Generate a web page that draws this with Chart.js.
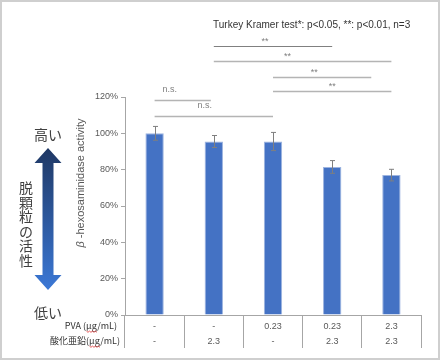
<!DOCTYPE html>
<html lang="ja">
<head>
    <meta charset="UTF-8">
    <title>β-hexosaminidase activity</title>
    <script src="https://cdn.jsdelivr.net/npm/chart.js"></script>
    <style>
        html, body { margin: 0; padding: 0; background: #fff; }
        #wrap { width: 440px; height: 360px; }
    </style>
</head>
<body>
    <div id="wrap"><canvas id="chart" width="440" height="360"></canvas></div>

    <script>
        // Data
        const pvaLabels = ['-', '-', '0.23', '0.23', '2.3'];
        const znoLabels = ['-', '2.3', '-', '2.3', '2.3'];
        const activity = [100, 95.5, 95.5, 81.5, 77];
        const activityErr = [3.8, 3.3, 5, 3.5, 3.2];
        const yTicks = [0, 20, 40, 60, 80, 100, 120];

        // significance brackets: from / to (category index), label
        const bracketFrom = [1, 1, 2, 2, 0, 0];
        const bracketTo = [3, 4, 3.66, 4, 0.95, 2];
        const bracketLabel = ['**', '**', '**', '**', 'n.s.', 'n.s.'];

        const FONT = '"Liberation Sans", Arial, "Noto Sans CJK JP", sans-serif';
        const JP = '"Noto Sans CJK JP", "Liberation Sans", sans-serif';

        // pixel levels of the brackets (drawn above the plot)
        const bracketY = [46, 61, 77, 91, 100, 116];
        const labelDx = [-8, -15, -8, 0, -13, -9];

        // red spellcheck squiggle under "μg"
        function squiggle(ctx, x0, x1, y) {
            ctx.save();
            ctx.strokeStyle = '#e03030';
            ctx.lineWidth = 0.8;
            ctx.beginPath();
            for (let xx = x0, k = 0; xx <= x1; xx += 1.5, k++) {
                const yy = y + (k % 2 ? 0.8 : -0.4);
                if (k === 0) ctx.moveTo(xx, yy); else ctx.lineTo(xx, yy);
            }
            ctx.stroke();
            ctx.restore();
        }

        const extras = {
            id: 'extras',
            beforeDraw(chart) {
                const ctx = chart.ctx;
                ctx.save();
                ctx.fillStyle = '#fff';
                ctx.fillRect(0, 0, chart.width, chart.height);
                ctx.strokeStyle = '#cfcfcf';
                ctx.lineWidth = 2;
                ctx.strokeRect(1, 1, chart.width - 2, chart.height - 2);
                ctx.restore();
            },
            afterDatasetsDraw(chart) {
                const ctx = chart.ctx;
                const x = chart.scales.x, y = chart.scales.y;
                const meta = chart.getDatasetMeta(0);
                ctx.save();

                // error bars
                ctx.strokeStyle = '#7f7f7f';
                ctx.lineWidth = 1;
                meta.data.forEach((bar, i) => {
                    const top = y.getPixelForValue(activity[i] + activityErr[i]);
                    const bot = y.getPixelForValue(activity[i] - activityErr[i]);
                    const cx = Math.round(bar.x) + 0.5;
                    ctx.beginPath();
                    ctx.moveTo(cx, top); ctx.lineTo(cx, bot);
                    ctx.moveTo(cx - 2.5, top); ctx.lineTo(cx + 2.5, top);
                    ctx.moveTo(cx - 2.5, bot); ctx.lineTo(cx + 2.5, bot);
                    ctx.stroke();
                });

                // brackets
                ctx.font = '9px ' + FONT;
                ctx.textAlign = 'center';
                ctx.textBaseline = 'middle';
                bracketLabel.forEach((lab, i) => {
                    const x1 = x.getPixelForValue(bracketFrom[i]);
                    const x2 = x.getPixelForValue(bracketTo[i]);
                    const by = bracketY[i] + 0.5;
                    ctx.strokeStyle = i === 0 ? '#808080' : '#b4b4b4';
                    ctx.lineWidth = i === 0 ? 1 : 1.5;
                    ctx.beginPath();
                    ctx.moveTo(x1, by); ctx.lineTo(x2, by);
                    ctx.stroke();
                    ctx.fillStyle = '#7f7f7f';
                    ctx.fillText(lab, (x1 + x2) / 2 + labelDx[i], by - (lab === '**' ? 5 : 11));
                });

                // test note
                ctx.fillStyle = '#333';
                ctx.font = '10px ' + FONT;
                ctx.textAlign = 'left';
                ctx.fillText('Turkey Kramer test*: p<0.05, **: p<0.01, n=3', 213, 25);

                // table row labels
                ctx.fillStyle = '#333';
                ctx.font = '9px ' + JP;
                ctx.textAlign = 'right';
                ctx.fillText('PVA (μg/mL)', 117, 326);
                ctx.fillText('酸化亜鉛(μg/mL)', 120, 341);
                // squiggles under μg, measured from the right end
                const tail = ctx.measureText('/mL)').width;
                const mu = ctx.measureText('μg').width;
                squiggle(ctx, 117 - tail - mu, 117 - tail, 331.5);
                squiggle(ctx, 120 - tail - mu, 120 - tail, 346.5);

                // y axis title (italic beta)
                ctx.save();
                ctx.translate(81, 183);
                ctx.rotate(-Math.PI / 2);
                ctx.fillStyle = '#595959';
                ctx.font = 'italic 11px ' + FONT;
                const wb = ctx.measureText('β').width;
                ctx.font = '11px ' + FONT;
                const rest = ' -hexosaminidase activity';
                const wr = ctx.measureText(rest).width;
                const x0 = -(wb + wr) / 2;
                ctx.textAlign = 'left';
                ctx.fillText(rest, x0 + wb, 0);
                ctx.font = 'italic 11px ' + FONT;
                ctx.fillText('β', x0, 0);
                ctx.restore();

                // arrow
                const ax = 48, aTop = 148, aBot = 290, head = 15, hw = 13.5, sw = 5.5;
                const g = ctx.createLinearGradient(0, aTop, 0, aBot);
                g.addColorStop(0, '#1f3864');
                g.addColorStop(1, '#3b78d6');
                ctx.fillStyle = g;
                ctx.beginPath();
                ctx.moveTo(ax, aTop);
                ctx.lineTo(ax + hw, aTop + head);
                ctx.lineTo(ax + sw, aTop + head);
                ctx.lineTo(ax + sw, aBot - head);
                ctx.lineTo(ax + hw, aBot - head);
                ctx.lineTo(ax, aBot);
                ctx.lineTo(ax - hw, aBot - head);
                ctx.lineTo(ax - sw, aBot - head);
                ctx.lineTo(ax - sw, aTop + head);
                ctx.lineTo(ax - hw, aTop + head);
                ctx.closePath();
                ctx.fill();

                ctx.fillStyle = '#404040';
                ctx.font = '14px ' + JP;
                ctx.textAlign = 'center';
                ctx.fillText('高い', 48, 135);
                ctx.fillText('低い', 48, 313);
                const vert = '脱顆粒の活性';
                for (let k = 0; k < vert.length; k++) {
                    ctx.fillText(vert[k], 26, 188 + k * 14.5);
                }
                ctx.restore();
            }
        };

        new Chart(document.getElementById('chart'), {
            type: 'bar',
            data: {
                labels: pvaLabels.map((p, i) => [p, znoLabels[i]]),
                datasets: [{
                    data: activity,
                    backgroundColor: '#4472C4',
                    borderColor: '#9db4e0',
                    borderWidth: 1,
                    barPercentage: 0.31,
                    categoryPercentage: 1
                }]
            },
            options: {
                responsive: false,
                animation: false,
                layout: { padding: { top: 97, right: 19, bottom: 0, left: 0 } },
                plugins: { legend: { display: false }, tooltip: { enabled: false } },
                scales: {
                    x: {
                        afterFit(s) { s.height = 45; },
                        grid: { display: true, drawOnChartArea: false, drawTicks: true, tickLength: 33, color: '#a6a6a6', offset: true },
                        border: { display: true, color: '#a6a6a6' },
                        ticks: {
                            color: '#595959',
                            padding: -29,
                            maxRotation: 0,
                            autoSkip: false,
                            font: { size: 9, family: FONT, lineHeight: 1.67 }
                        }
                    },
                    y: {
                        min: 0,
                        max: 120,
                        afterFit(s) { s.width = 125; },
                        afterBuildTicks(s) { s.ticks = yTicks.map(v => ({ value: v })); },
                        grid: { drawOnChartArea: false, drawTicks: true, tickLength: 4, color: '#a6a6a6' },
                        border: { display: true, color: '#a6a6a6' },
                        ticks: {
                            color: '#595959',
                            padding: 3,
                            font: { size: 9, family: FONT },
                            callback: v => v + '%'
                        }
                    }
                }
            },
            plugins: [extras]
        });
    </script>
</body>
</html>
